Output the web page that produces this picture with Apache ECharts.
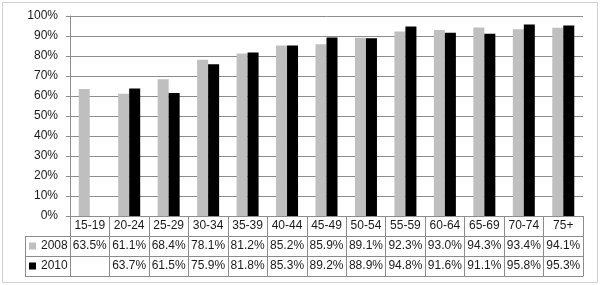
<!DOCTYPE html>
<html><head><meta charset="utf-8">
<script src="https://cdn.jsdelivr.net/npm/echarts@6/dist/echarts.min.js"></script>
<style>html,body{margin:0;padding:0;background:#fff}#c{width:600px;height:285px}</style>
</head><body><div id="c"></div>
<script>
const categories = ['15-19','20-24','25-29','30-34','35-39','40-44','45-49','50-54','55-59','60-64','65-69','70-74','75+'];
const values2008 = [63.5,61.1,68.4,78.1,81.2,85.2,85.9,89.1,92.3,93.0,94.3,93.4,94.1];
const values2010 = [null,63.7,61.5,75.9,81.8,85.3,89.2,88.9,94.8,91.6,91.1,95.8,95.3];
const seriesNames = ['2008','2010'];
const yTicks = {min:0, max:100, interval:10};

const fmt = v => (v == null ? '' : v.toFixed(1) + '%');
const FONT = 'Liberation Sans, Arial, sans-serif';
const LINE = '#8c8c8c';
const GRID = {left:70, right:17, top:16, bottom:69};
const ROW = 20;
const TABLE_LEFT = 25;
const W = 600, H = 285;
const axisBottom = H - GRID.bottom;
const gridRight = W - GRID.right;

const chart = echarts.init(document.getElementById('c'), null, {renderer:'canvas'});

function rowAxis(off, data, showLabel){
  return {
    type:'category', gridIndex:0, position:'bottom', offset:off, data:data,
    axisLine:{show:true, lineStyle:{color:LINE, width:1}},
    axisTick:{show:false},
    axisLabel:{show:showLabel, interval:0, margin:4, color:'#1a1a1a', fontFamily:FONT, fontSize:12},
    splitLine:{show:false}
  };
}

const hLines = [1,2,3].map(i => ({
  type:'line', silent:true,
  shape:{x1:TABLE_LEFT, y1:axisBottom + ROW*i + 0.5, x2:gridRight, y2:axisBottom + ROW*i + 0.5},
  style:{stroke:LINE, lineWidth:1}
}));

function legendFor(i){
  return {data:[seriesNames[i]], left:TABLE_LEFT+4, top:axisBottom+ROW*(i+1)+3, icon:'rect',
    itemWidth:7, itemHeight:7, itemGap:0, padding:0,
    textStyle:{color:'#1a1a1a', fontFamily:FONT, fontSize:12, lineHeight:14}};
}

chart.setOption({
  animation:false,
  backgroundColor:'#fff',
  grid:{left:GRID.left, right:GRID.right, top:GRID.top, bottom:GRID.bottom, containLabel:false},
  legend:[legendFor(0), legendFor(1)],
  xAxis:[
    {
      type:'category', data:categories, position:'bottom',
      axisLine:{show:true, lineStyle:{color:LINE}},
      axisTick:{show:true, alignWithLabel:false, interval:0, length:ROW*3, lineStyle:{color:LINE}},
      axisLabel:{interval:0, margin:4, color:'#1a1a1a', fontFamily:FONT, fontSize:12},
      splitLine:{show:false}
    },
    rowAxis(ROW, values2008.map(fmt), true),
    rowAxis(ROW*2, values2010.map(fmt), true),
    rowAxis(ROW*3, categories.map(()=>''), false)
  ],
  yAxis:{
    type:'value', min:yTicks.min, max:yTicks.max, interval:yTicks.interval,
    axisLine:{show:true, lineStyle:{color:LINE}},
    axisTick:{show:true, length:4, lineStyle:{color:LINE}},
    axisLabel:{formatter:'{value}%', margin:12, color:'#1a1a1a', fontFamily:FONT, fontSize:12},
    splitLine:{show:true, lineStyle:{color:LINE, width:1}}
  },
  series:[
    {name:seriesNames[0], type:'bar', data:values2008, barWidth:11, barGap:'0%', itemStyle:{color:'#bfbfbf'}},
    {name:seriesNames[1], type:'bar', data:values2010, barWidth:11, barGap:'0%', itemStyle:{color:'#000000'}}
  ],
  graphic:[
    {type:'rect', silent:true, shape:{x:2.5, y:2.5, width:595, height:280}, style:{fill:null, stroke:'#d0d0d0', lineWidth:1}},
    {type:'line', silent:true, shape:{x1:TABLE_LEFT+0.5, y1:axisBottom+ROW, x2:TABLE_LEFT+0.5, y2:axisBottom+ROW*3}, style:{stroke:LINE, lineWidth:1}}
  ].concat(hLines)
});
</script></body></html>
